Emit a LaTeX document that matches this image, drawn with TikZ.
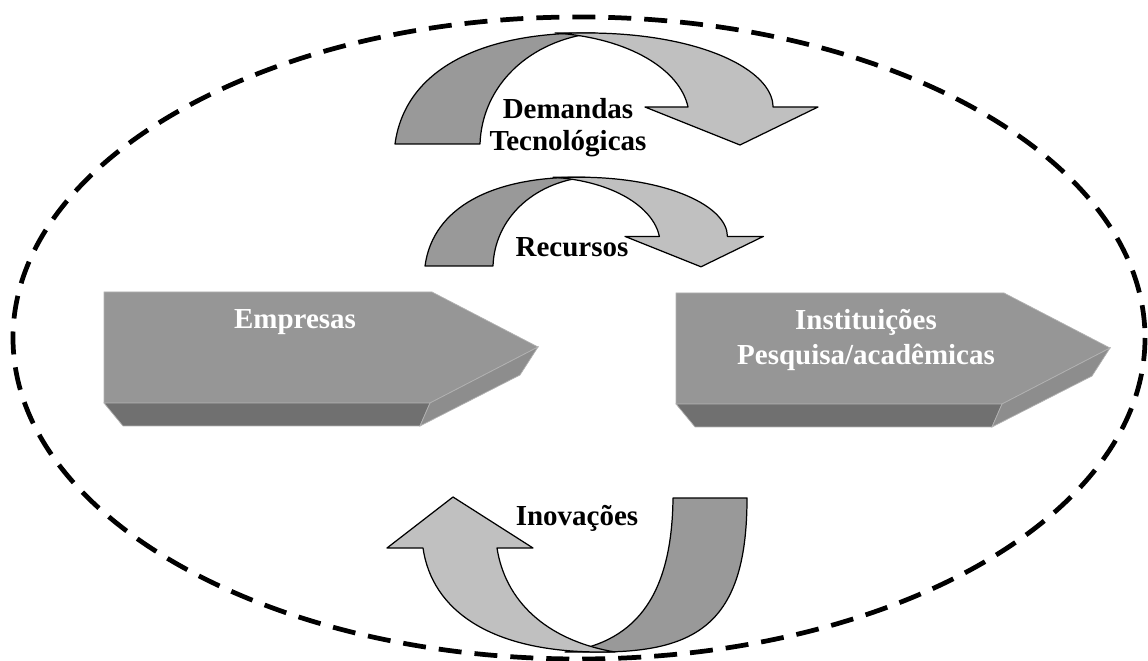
\documentclass[tikz,border=0pt]{standalone}
\usepackage{fontspec}
\setmainfont{Liberation Serif}
\definecolor{bandDark}{RGB}{153,153,153}
\definecolor{bandLight}{RGB}{192,192,192}
\definecolor{faceFront}{RGB}{150,150,150}
\definecolor{faceBottom}{RGB}{112,112,112}
\definecolor{faceSide}{RGB}{141,141,141}
\definecolor{faceEdge}{RGB}{178,178,178}

\begin{document}
\begin{tikzpicture}[x=0.02cm, y=-0.02cm,
            band/.style={draw=black, line width=0.7pt, line join=round},
            backband/.style={band, fill=bandDark},
            frontband/.style={band, fill=bandLight},
            face/.style={draw=faceEdge, line width=0.4pt},
            label/.style={font=\bfseries\fontsize{16.5}{18.7}\selectfont, align=center,
                          anchor=base, inner sep=0pt},
            boundary/.style={line width=2.7pt, dash pattern=on 0.46cm off 0.26cm},
            twist/.pic={
                \draw[backband] (0,0) .. controls (10,-74) and (85,-111) .. (192,-111)
                    -- (200,-111) .. controls (135,-104) and (87,-59) .. (85,0) -- cycle;
                \draw[frontband] (160,-111) -- (192,-111) .. controls (305,-111) and (378,-74) .. (378,-37)
                    -- (423,-37) -- (345,1) -- (250,-37) -- (293,-37)
                    .. controls (285,-74) and (235,-106) .. (160,-111) -- cycle;
            },
            block/.pic={
                \draw[face, fill=faceFront] (0,0) -- (328,0) -- (434,55) -- (326,111) -- (0,111) -- cycle;
                \draw[face, fill=faceBottom] (0,111) -- (326,111) -- (316,134) -- (19,134) -- cycle;
                \draw[face, fill=faceSide] (326,111) -- (434,55) -- (416,83) -- (316,134) -- cycle;
            }
        ]
            \useasboundingbox (0,0) rectangle (1148,661);
            \draw[boundary] (579,338) ellipse [x radius=566, y radius=321];

            % Blocks
            \pic at (104,292) {block};
            \pic at (676,293) {block};

            % Curved arrows
            \pic at (395,144) {twist};
            \pic[scale=0.8] at (425,266) {twist};

            \draw[backband] (673,498) -- (747,498) .. controls (747,620) and (700,652) .. (600,652)
                -- (565,652) .. controls (640,642) and (672,590) .. (673,498) -- cycle;
            \draw[frontband] (423,548) -- (387,548) -- (453,497) -- (533,548) -- (497,548)
                .. controls (505,600) and (545,640) .. (615,652) -- (600,652)
                .. controls (490,652) and (432,610) .. (423,548) -- cycle;

            % Labels
            \node[label, text=white] (empresas) at (295,329) {Empresas};
            \node[label, text=white, font=\bfseries\fontsize{16.5}{20.2}\selectfont] (instituicoes) at (866,365)
                {Instituições\\Pesquisa/acadêmicas};
            \node[label] (demandas) at (568,151) {Demandas\\Tecnológicas};
            \node[label] (recursos) at (572,257) {Recursos};
            \node[label] (inovacoes) at (577,525) {Inovações};
        \end{tikzpicture}
\end{document}
